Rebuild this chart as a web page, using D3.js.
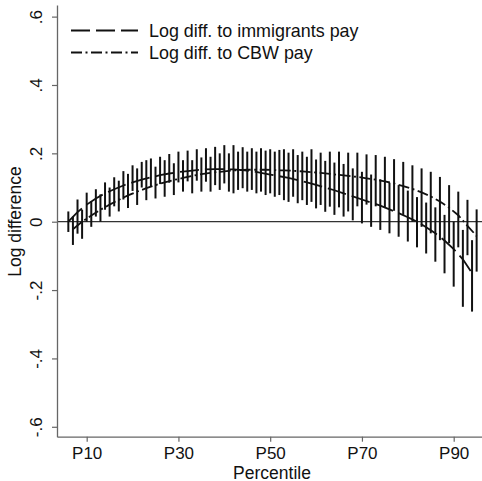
<!DOCTYPE html>
<html>
<head>
<meta charset="utf-8">
<script src="https://cdn.jsdelivr.net/npm/d3@7"></script>
<style>
  html, body { margin: 0; padding: 0; background: #fff; }
  svg { display: block; font-family: "Liberation Sans", Arial, sans-serif; }
</style>
</head>
<body>
<svg id="chart" width="482" height="481"></svg>
<script>
var WIDTH = 482;
var HEIGHT = 481;

// percentile ticks
var xTicks = [10, 30, 50, 70, 90];
var xTickLabels = ['P10', 'P30', 'P50', 'P70', 'P90'];
var yTicks = [-0.6, -0.4, -0.2, 0, 0.2, 0.4, 0.6];
var yTickLabels = ['-.6', '-.4', '-.2', '0', '.2', '.4', '.6'];

// log diff. to immigrants pay (even percentiles)
var immPct = [6, 8, 10, 12, 14, 16, 18, 20, 22, 24, 26, 28, 30, 32, 34, 36, 38, 40, 42, 44, 46, 48, 50,
  52, 54, 56, 58, 60, 62, 64, 66, 68, 70, 72, 74, 76, 78, 80, 82, 84, 86, 88, 90, 92, 94];
var immFit = [0.000, 0.028, 0.050, 0.068, 0.083, 0.095, 0.106, 0.115, 0.123, 0.130, 0.136, 0.141, 0.145,
  0.148, 0.151, 0.153, 0.154, 0.154, 0.153, 0.151, 0.148, 0.143, 0.138, 0.133, 0.128, 0.122, 0.115,
  0.108, 0.100, 0.092, 0.083, 0.074, 0.065, 0.056, 0.047, 0.036, 0.025, 0.013, 0.000, -0.016, -0.034,
  -0.055, -0.080, -0.110, -0.150];
var immLo = [-0.030, -0.035, 0.000, 0.015, 0.035, 0.045, 0.065, 0.090, 0.100, 0.102, 0.110, 0.114, 0.115,
  0.118, 0.120, 0.117, 0.107, 0.112, 0.083, 0.098, 0.093, 0.088, 0.083, 0.078, 0.058, 0.054, 0.049,
  0.039, 0.029, 0.020, 0.015, 0.004, -0.005, -0.015, -0.024, -0.034, -0.044, -0.058, -0.075, -0.093,
  -0.117, -0.151, -0.190, -0.249, -0.263];
var immHi = [0.030, 0.065, 0.085, 0.095, 0.115, 0.130, 0.148, 0.165, 0.175, 0.185, 0.190, 0.198, 0.205,
  0.208, 0.212, 0.215, 0.219, 0.224, 0.224, 0.218, 0.215, 0.215, 0.212, 0.210, 0.202, 0.195, 0.190,
  0.182, 0.178, 0.173, 0.169, 0.156, 0.146, 0.138, 0.124, 0.114, 0.107, 0.091, 0.072, 0.056, 0.042,
  0.020, 0.000, -0.024, -0.054];

// log diff. to CBW pay (odd percentiles)
var cbwPct = [7, 9, 11, 13, 15, 17, 19, 21, 23, 25, 27, 29, 31, 33, 35, 37, 39, 41, 43, 45, 47, 49, 51,
  53, 55, 57, 59, 61, 63, 65, 67, 69, 71, 73, 75, 77, 79, 81, 83, 85, 87, 89, 91, 93, 95];
var cbwFit = [-0.022, 0.000, 0.018, 0.035, 0.050, 0.064, 0.077, 0.088, 0.098, 0.107, 0.115, 0.122, 0.128,
  0.134, 0.139, 0.143, 0.146, 0.149, 0.151, 0.152, 0.152, 0.152, 0.151, 0.150, 0.149, 0.147, 0.145,
  0.143, 0.140, 0.137, 0.134, 0.131, 0.127, 0.123, 0.118, 0.112, 0.104, 0.096, 0.086, 0.074, 0.059,
  0.041, 0.019, -0.012, -0.042];
var cbwLo = [-0.068, -0.050, -0.015, 0.000, 0.015, 0.030, 0.040, 0.049, 0.063, 0.068, 0.073, 0.078, 0.088,
  0.083, 0.088, 0.088, 0.093, 0.088, 0.093, 0.088, 0.083, 0.078, 0.073, 0.063, 0.073, 0.063, 0.058,
  0.049, 0.044, 0.042, 0.030, 0.045, 0.050, 0.045, 0.040, 0.032, 0.020, 0.000, -0.015, -0.034, -0.054,
  -0.063, -0.075, -0.098, -0.146];
var cbwHi = [0.015, 0.035, 0.060, 0.080, 0.100, 0.120, 0.140, 0.156, 0.180, 0.161, 0.180, 0.171, 0.180,
  0.180, 0.188, 0.190, 0.200, 0.200, 0.205, 0.205, 0.205, 0.208, 0.205, 0.212, 0.212, 0.205, 0.212,
  0.202, 0.205, 0.205, 0.202, 0.202, 0.197, 0.195, 0.190, 0.183, 0.175, 0.165, 0.156, 0.146, 0.131,
  0.107, 0.088, 0.064, 0.036];

var legendLabels = ['Log diff. to immigrants pay', 'Log diff. to CBW pay'];

var AXIS_COLOR = '#666';
var INK = '#111';
var IMM_DASH = '19,6';
var CBW_DASH = '11,3.5,2,3.5';

var svg = d3.select('#chart');

var xScale = d3.scaleLinear().domain([3.53, 96.17]).range([57, 482]);
var yScale = d3.scaleLinear().domain([-0.629, 0.634]).range([436.7, 5]);

function toRows(pct, fit, lo, hi) {
  return pct.map((p, i) => ({ p: p, fit: fit[i], lo: lo[i], hi: hi[i] }));
}
var immRows = toRows(immPct, immFit, immLo, immHi);
var cbwRows = toRows(cbwPct, cbwFit, cbwLo, cbwHi);

// zero reference line
svg.append('line')
  .attr('x1', xScale.range()[0])
  .attr('x2', xScale.range()[1])
  .attr('y1', yScale(0))
  .attr('y2', yScale(0))
  .attr('stroke', '#333')
  .attr('stroke-width', 1.3);

// error bars
var bars = immRows.concat(cbwRows);
svg.append('g')
  .attr('class', 'bars')
  .selectAll('line')
  .data(bars)
  .enter()
  .append('line')
  .attr('x1', d => xScale(d.p))
  .attr('x2', d => xScale(d.p))
  .attr('y1', d => yScale(d.lo))
  .attr('y2', d => yScale(d.hi))
  .attr('stroke', INK)
  .attr('stroke-width', 2);

var line = d3.line()
  .x(d => xScale(d.p))
  .y(d => yScale(d.fit));

svg.append('path')
  .attr('d', line(immRows))
  .attr('fill', 'none')
  .attr('stroke', INK)
  .attr('stroke-width', 1.8)
  .attr('stroke-dasharray', IMM_DASH);

svg.append('path')
  .attr('d', line(cbwRows))
  .attr('fill', 'none')
  .attr('stroke', INK)
  .attr('stroke-width', 1.8)
  .attr('stroke-dasharray', CBW_DASH);

// axes
var xAxis = d3.axisBottom(xScale)
  .tickValues(xTicks)
  .tickFormat((d, i) => xTickLabels[i])
  .tickSize(5)
  .tickSizeOuter(0)
  .tickPadding(5);

var xAxisGroup = svg.append('g')
  .attr('class', 'axis axis-x')
  .attr('transform', 'translate(0, ' + yScale.range()[0] + ')')
  .call(xAxis);

var yAxis = d3.axisLeft(yScale)
  .tickValues(yTicks)
  .tickFormat((d, i) => yTickLabels[i])
  .tickSize(5)
  .tickSizeOuter(0);

var yAxisGroup = svg.append('g')
  .attr('class', 'axis axis-y')
  .attr('transform', 'translate(' + xScale.range()[0] + ', 0)')
  .call(yAxis);

[xAxisGroup, yAxisGroup].forEach(g => {
  g.select('.domain').attr('stroke', AXIS_COLOR).attr('stroke-width', 1.3);
  g.selectAll('.tick line').attr('stroke', AXIS_COLOR).attr('stroke-width', 1.2);
  g.selectAll('.tick text')
    .attr('fill', INK)
    .style('font-size', '17px')
    .style('font-family', '"Liberation Sans", Arial, sans-serif');
});

yAxisGroup.selectAll('.tick text')
  .attr('transform', 'rotate(-90)')
  .attr('x', 0)
  .attr('y', -15.3)
  .attr('dy', 0)
  .attr('text-anchor', 'middle');

// axis titles
svg.append('text')
  .attr('x', 272)
  .attr('y', 478.5)
  .attr('text-anchor', 'middle')
  .attr('fill', INK)
  .style('font-size', '17.5px')
  .text('Percentile');

svg.append('text')
  .attr('transform', 'translate(20.8, 221.5) rotate(-90)')
  .attr('text-anchor', 'middle')
  .attr('fill', INK)
  .style('font-size', '17.5px')
  .text('Log difference');

// legend
var legend = svg.append('g').attr('class', 'legend');
var legendDash = [IMM_DASH, CBW_DASH];
legendLabels.forEach((label, i) => {
  var ly = 30.5 + i * 22;
  legend.append('line')
    .attr('x1', 71)
    .attr('x2', 138)
    .attr('y1', ly)
    .attr('y2', ly)
    .attr('stroke', INK)
    .attr('stroke-width', 1.8)
    .attr('stroke-dasharray', legendDash[i]);
  legend.append('text')
    .attr('x', 149)
    .attr('y', ly + 6.5)
    .attr('fill', INK)
    .style('font-size', '17.9px')
    .text(label);
});
</script>
</body>
</html>
